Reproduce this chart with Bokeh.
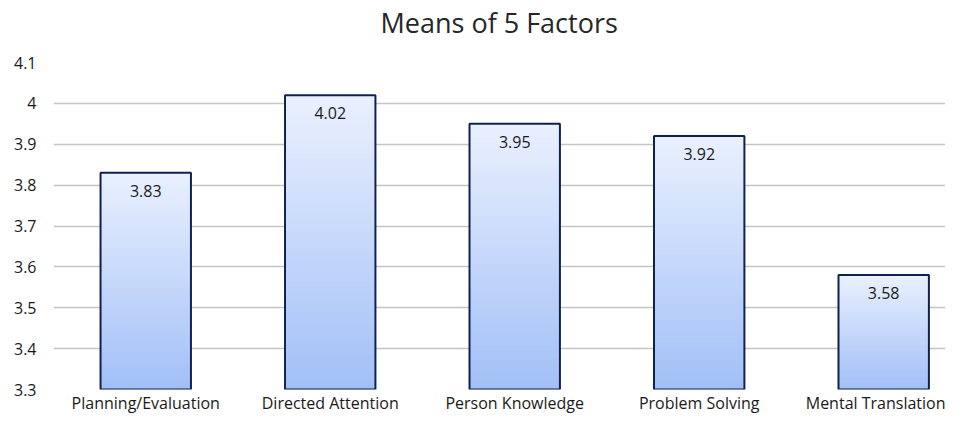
from bokeh.plotting import figure
from bokeh.models import Range1d, FixedTicker, ColumnDataSource, Title
from bokeh.embed import file_html
from bokeh.resources import INLINE
from bokeh.core.properties import value

categories = ["Planning/Evaluation", "Directed Attention", "Person Knowledge", "Problem Solving", "Mental Translation"]
means = [3.83, 4.02, 3.95, 3.92, 3.58]
mean_labels = ["3.83", "4.02", "3.95", "3.92", "3.58"]
y_ticks = [3.3, 3.4, 3.5, 3.6, 3.7, 3.8, 3.9, 4.0, 4.1]
y_tick_labels = ["3.3", "3.4", "3.5", "3.6", "3.7", "3.8", "3.9", "4", "4.1"]
title_text = "Means of 5 Factors"

BASE = 3.3
FONT = "Open Sans"

p = figure(width=945, height=416, output_backend="svg", toolbar_location=None,
           x_range=Range1d(-0.5, 4.335), y_range=Range1d(3.3, 4.1),
           min_border_left=53, min_border_right=0, min_border_top=62, min_border_bottom=22)
p.outline_line_color = None
p.background_fill_color = "white"

spacer = Title(text=" ", text_font_size="18px", standoff=0)
main_title = Title(text=title_text, text_font=FONT, text_font_size="27px",
                   text_font_style="normal", text_color="#262626",
                   align="left", offset=327, standoff=0)
p.add_layout(spacer, "above")
p.add_layout(main_title, "above")

xs = list(range(len(categories)))

# gradient fill simulated with thin slices per bar
N = 60
top_c = (0xEA, 0xF1, 0xFF)
bot_c = (0xA2, 0xC0, 0xF7)
sx, sb, st, sc = [], [], [], []
for i, v in zip(xs, means):
    h = (v - BASE) / N
    for k in range(N):
        t = (k + 0.5) / N
        r = int(bot_c[0] + (top_c[0] - bot_c[0]) * t)
        g = int(bot_c[1] + (top_c[1] - bot_c[1]) * t)
        b = int(bot_c[2] + (top_c[2] - bot_c[2]) * t)
        sx.append(i)
        sb.append(BASE + h * k)
        st.append(min(v, BASE + h * (k + 1.6)))
        sc.append("#%02x%02x%02x" % (r, g, b))
p.vbar(x=sx, bottom=sb, top=st, width=0.49, fill_color=sc, line_color=None)

src = ColumnDataSource(dict(x=xs, top=means, label=mean_labels))
p.vbar(x="x", bottom=BASE, top="top", width=0.49, source=src,
       fill_alpha=0, line_color="#0f2150", line_width=2)

p.text(x="x", y="top", text="label", source=src, text_align="center",
       text_baseline="middle", y_offset=18, text_font=value(FONT),
       text_font_size="16px", text_color="#1a1a1a")

p.xgrid.visible = False
p.ygrid.grid_line_color = "#c4c4c4"
p.ygrid.grid_line_width = 1.5

p.xaxis.ticker = FixedTicker(ticks=xs)
p.xaxis.major_label_overrides = {i: c for i, c in zip(xs, categories)}
p.yaxis.ticker = FixedTicker(ticks=y_ticks)
p.yaxis.major_label_overrides = {t: l for t, l in zip(y_ticks, y_tick_labels)}

for ax in (p.xaxis, p.yaxis):
    ax.axis_line_color = None
    ax.major_tick_line_color = None
    ax.minor_tick_line_color = None
    ax.major_tick_out = 0
    ax.major_tick_in = 0
    ax.major_label_text_font = FONT
    ax.major_label_text_font_size = "16px"
    ax.major_label_text_color = "#1a1a1a"
p.xaxis.major_label_standoff = 2
p.yaxis.major_label_standoff = 17

open("out.html", "w").write(file_html(p, INLINE))
